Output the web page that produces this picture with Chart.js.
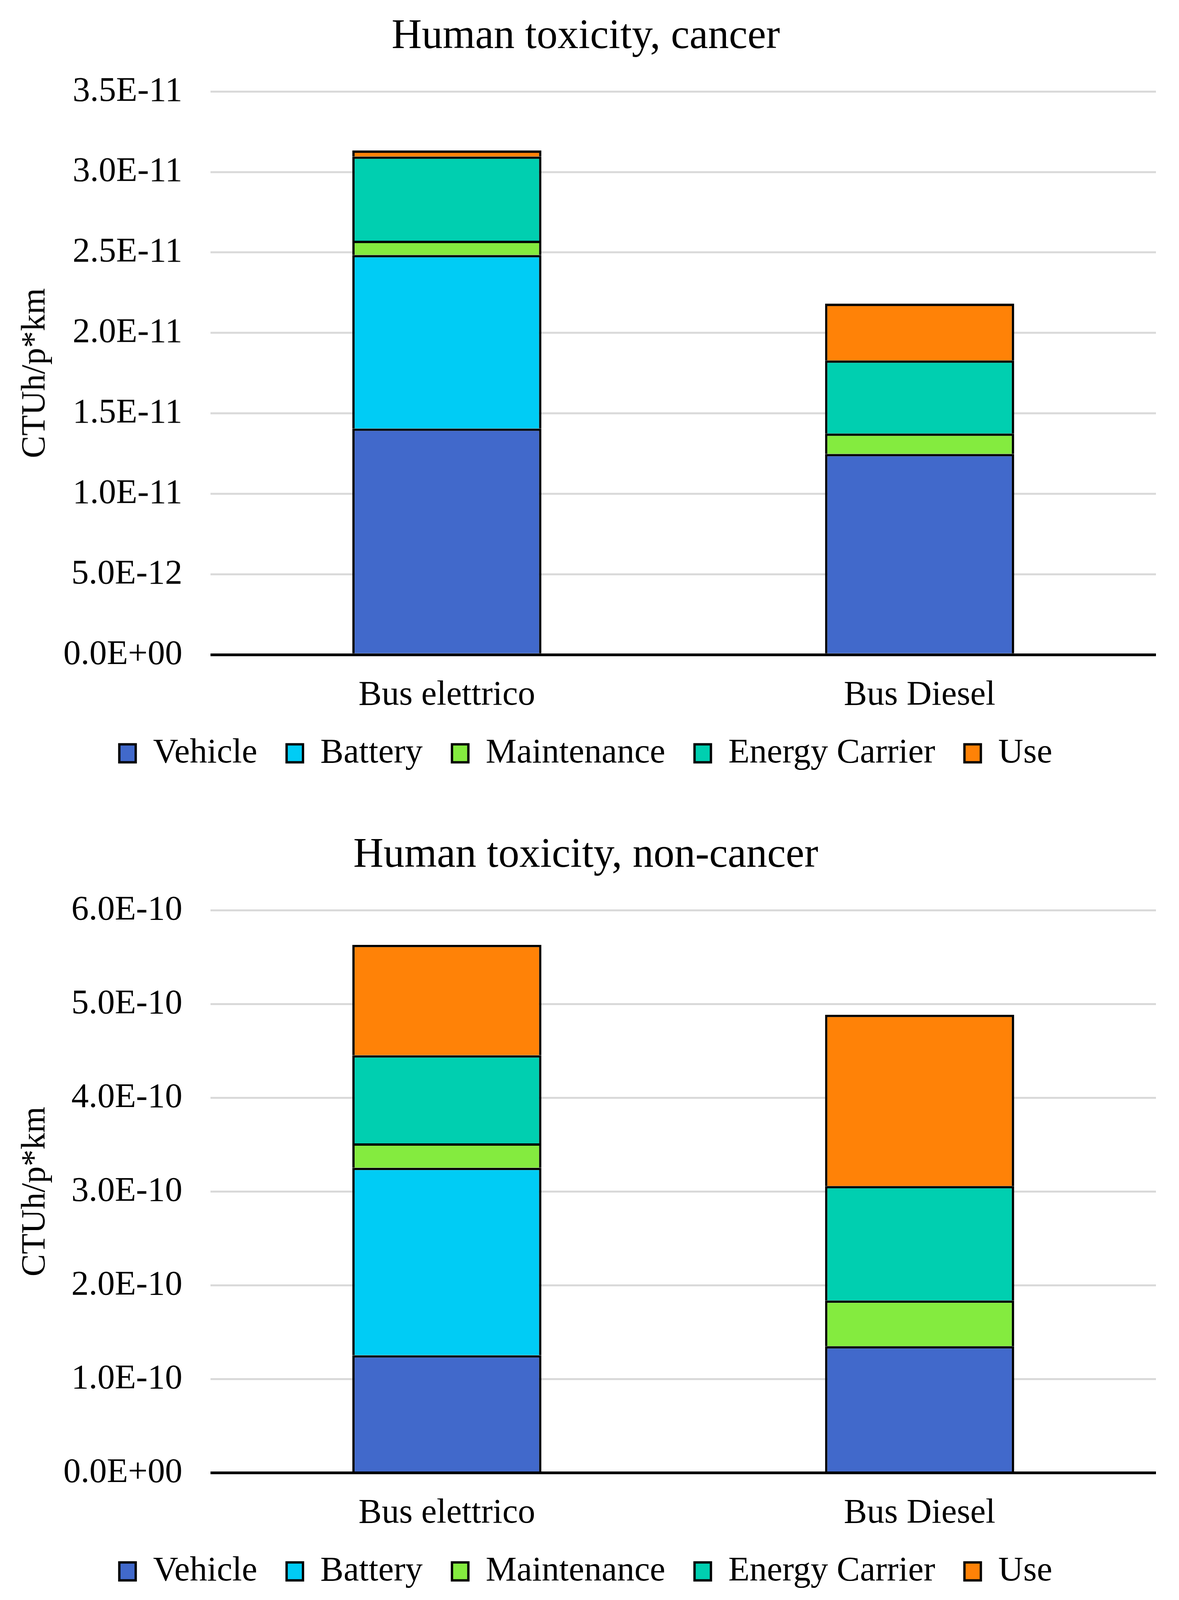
<!DOCTYPE html>
<html>
<head>
<meta charset="utf-8">
<script src="https://cdn.jsdelivr.net/npm/chart.js@4/dist/chart.umd.min.js"></script>
<style>
  html, body { margin: 0; padding: 0; background: #ffffff; overflow: hidden; }
  .wrap { position: absolute; left: 0; }
</style>
</head>
<body>
<div class="wrap" id="wrapTop"><canvas id="cancerChart"></canvas></div>
<div class="wrap" id="wrapBottom"><canvas id="nonCancerChart"></canvas></div>
<script>
// Chart data
const categories = ['Bus elettrico', 'Bus Diesel'];
const seriesNames = ['Vehicle', 'Battery', 'Maintenance', 'Energy Carrier', 'Use'];
const seriesColors = ['#4169CB', '#00CCF5', '#84EB3F', '#00CFB0', '#FF8207'];

// Human toxicity, cancer (CTUh/p*km)
const cancerVehicle = [1.406e-11, 1.248e-11];
const cancerBattery = [1.078e-11, 0];
const cancerMaintenance = [0.089e-11, 0.127e-11];
const cancerEnergyCarrier = [0.523e-11, 0.454e-11];
const cancerUse = [0.038e-11, 0.353e-11];

// Human toxicity, non-cancer (CTUh/p*km)
const nonCancerVehicle = [1.254e-10, 1.351e-10];
const nonCancerBattery = [2.0e-10, 0];
const nonCancerMaintenance = [0.26e-10, 0.487e-10];
const nonCancerEnergyCarrier = [0.94e-10, 1.221e-10];
const nonCancerUse = [1.178e-10, 1.827e-10];

// y axis ranges
const cancerAxis = { max: 3.5e-11, step: 5e-12 };
const nonCancerAxis = { max: 6e-10, step: 1e-10 };

const FONT = "'Liberation Serif', 'Times New Roman', serif";

// the figure was laid out on a 3019 x 4257 page; scale to the real viewport
const S = window.innerWidth / 3019;
const SY = Math.min(window.innerHeight / 4257, S);
const px = (v) => v * S;
const py = (v) => v * SY;

function placeWrap(id, top, height) {
  const el = document.getElementById(id);
  el.style.top = py(top) + 'px';
  el.style.width = px(3019) + 'px';
  el.style.height = py(height) + 'px';
}
placeWrap('wrapTop', 0, 2128);
placeWrap('wrapBottom', 2128, 2129);

// Excel style scientific label, e.g. 3.5E-11 / 0.0E+00
function sciLabel(value) {
  if (Math.abs(value) < 1e-30) return '0.0E+00';
  const parts = value.toExponential(1).split('e');
  const exp = parseInt(parts[1], 10);
  const sign = exp < 0 ? '-' : '+';
  const digits = String(Math.abs(exp)).padStart(2, '0');
  return parts[0] + 'E' + sign + digits;
}

function buildDatasets(valueLists) {
  return seriesNames.map((name, i) => ({
    label: name,
    data: valueLists[i],
    backgroundColor: seriesColors[i],
    borderColor: '#000000',
    borderWidth: px(6),
    categoryPercentage: 1.0,
    barPercentage: 0.4
  }));
}

function renderStackedChart(canvasId, titleText, valueLists, axis, padTop, padBottom) {
  const ctx = document.getElementById(canvasId);
  if (!ctx) return;

  new Chart(ctx, {
    type: 'bar',
    data: {
      labels: categories,
      datasets: buildDatasets(valueLists)
    },
    options: {
      responsive: true,
      maintainAspectRatio: false,
      animation: false,
      layout: {
        padding: { top: py(padTop), right: px(59), bottom: py(padBottom), left: px(40) }
      },
      plugins: {
        title: {
          display: true,
          text: titleText,
          color: '#000000',
          font: { family: FONT, size: px(107), weight: 'normal' },
          padding: { top: 0, bottom: py(78) }
        },
        legend: {
          position: 'bottom',
          labels: {
            color: '#000000',
            font: { family: FONT, size: px(89) },
            boxWidth: px(42),
            boxHeight: px(46),
            padding: px(75)
          }
        },
        tooltip: { enabled: false }
      },
      scales: {
        x: {
          stacked: true,
          grid: { display: false, drawTicks: false },
          border: { display: false },
          ticks: {
            color: '#000000',
            font: { family: FONT, size: px(89), lineHeight: 0.8 },
            padding: py(71)
          },
          afterFit: (scale) => { scale.height = py(138); }
        },
        y: {
          stacked: true,
          min: 0,
          max: axis.max,
          border: { display: false },
          grid: {
            drawTicks: false,
            color: (c) => (c.tick && c.tick.value === 0 ? '#000000' : '#D9D9D9'),
            lineWidth: (c) => (c.tick && c.tick.value === 0 ? px(7) : px(5))
          },
          ticks: {
            stepSize: axis.step,
            color: '#000000',
            font: { family: FONT, size: px(89) },
            padding: px(72),
            callback: (value) => sciLabel(value)
          },
          title: {
            display: true,
            text: 'CTUh/p*km',
            color: '#000000',
            font: { family: FONT, size: px(86), weight: 'normal' },
            padding: { top: 0, bottom: 0 }
          },
          afterFit: (scale) => { scale.width = px(499); }
        }
      }
    }
  });
}

renderStackedChart('cancerChart', 'Human toxicity, cancer',
  [cancerVehicle, cancerBattery, cancerMaintenance, cancerEnergyCarrier, cancerUse], cancerAxis, 32, 68);
renderStackedChart('nonCancerChart', 'Human toxicity, non-cancer',
  [nonCancerVehicle, nonCancerBattery, nonCancerMaintenance, nonCancerEnergyCarrier, nonCancerUse], nonCancerAxis, 82, 20);
</script>
</body>
</html>
